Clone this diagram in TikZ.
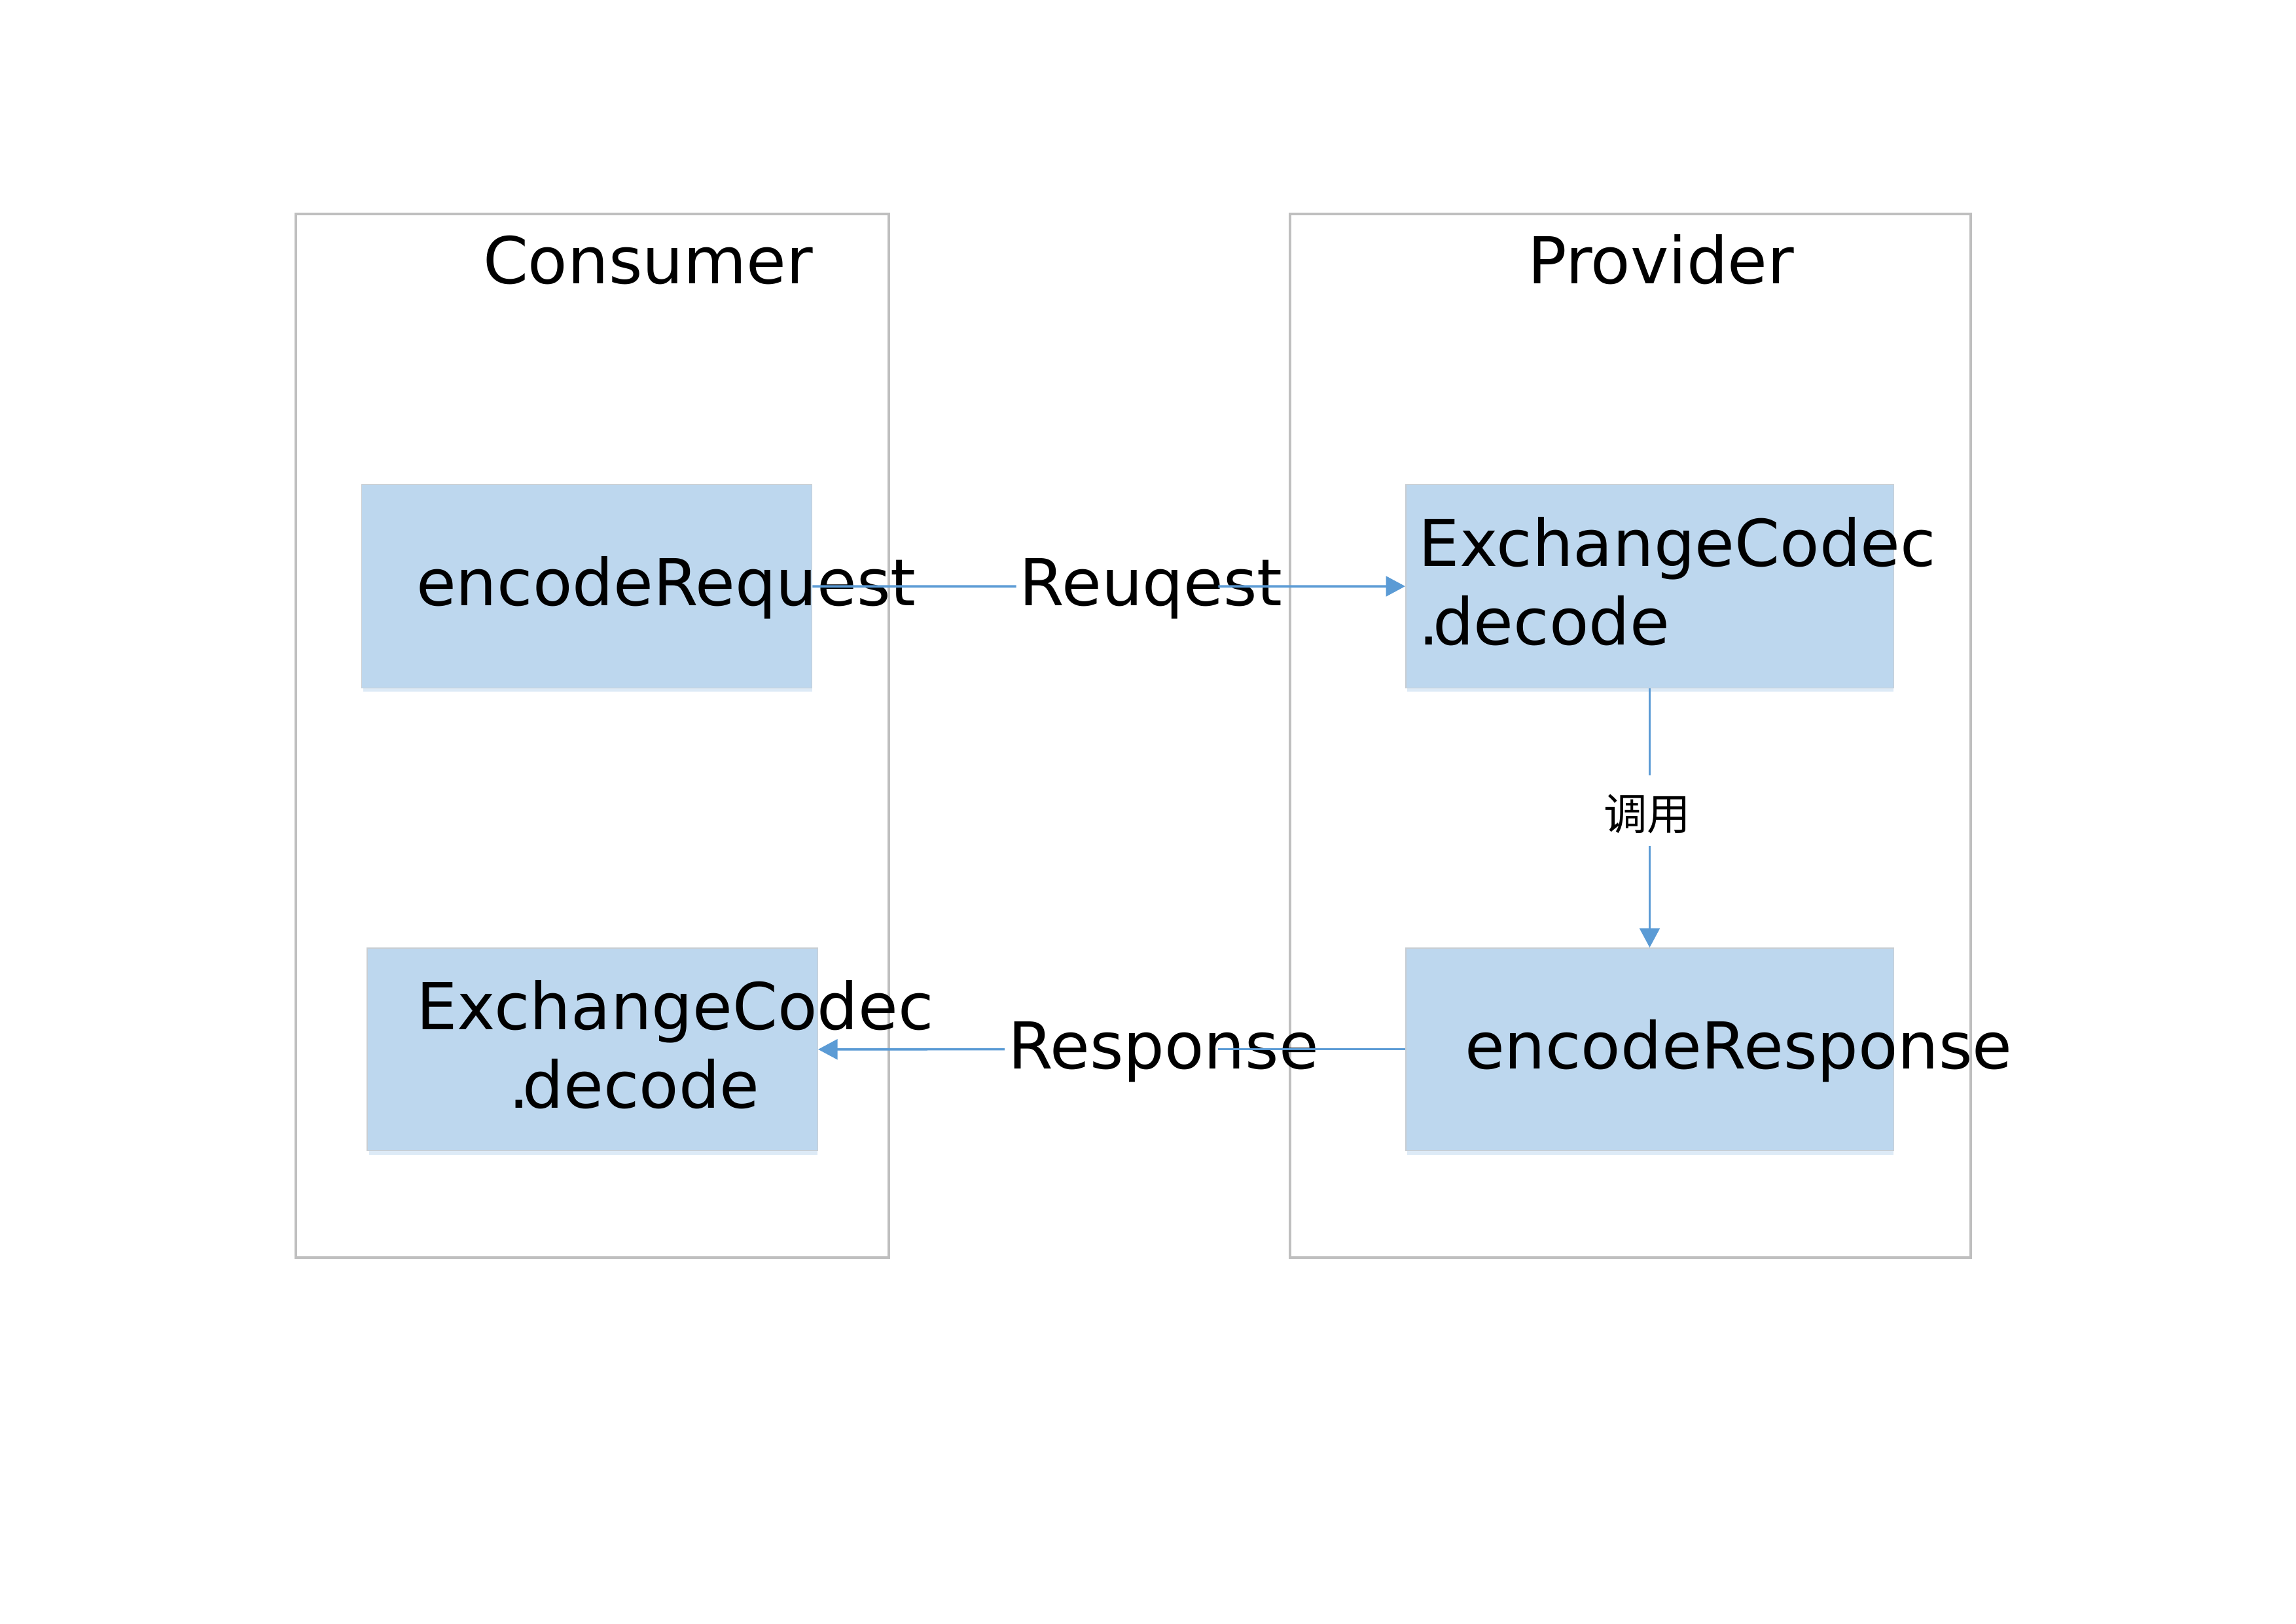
\documentclass[tikz,border=0pt]{standalone}
\usepackage{fontspec}
\setmainfont{DejaVu Sans}
\newfontfamily\cjk{Noto Sans CJK SC}
\usetikzlibrary{arrows.meta,fit}
\definecolor{boxfill}{HTML}{BDD7EE}
\definecolor{boxshade}{HTML}{DDEAF6}
\definecolor{boxedge}{HTML}{C8CDD2}
\definecolor{frame}{HTML}{BFBFBF}
\definecolor{conncol}{HTML}{5B9BD5}
\begin{document}
\begin{tikzpicture}[x=0.018941cm,y=-0.018941cm,
  frameBox/.style={draw=frame,line width=0.9pt,inner sep=0pt},
  blockBox/.style={fill=boxfill,draw=boxedge,line width=0.35pt,inner sep=0pt},
  shade/.style={fill=boxshade,draw=none},
  bigText/.style={inner sep=0pt,anchor=base west,font=\fontsize{23.8}{28.8}\selectfont},
  cjkText/.style={inner sep=0pt,font=\cjk\fontsize{16}{19}\selectfont},
  conn/.style={draw=conncol,line width=0.85pt},
  connArrow/.style={conn,-{Triangle[width=0.26cm,length=0.25cm]}}]
\useasboundingbox (0,0) rectangle (1568,1109);
\fill[white] (0,0) rectangle (1568,1109);

% outer frames
\node[frameBox,fit={(202,146) (607,859)}] (consumer) {};
\node[frameBox,fit={(881,146) (1346,859)}] (provider) {};
\node[bigText] (consumerLbl) at (329.5,193.7) {Consumer};
\node[bigText] (providerLbl) at (1043,193.7) {Provider};

% shadows
\fill[shade] (248,470) rectangle (554.5,472.5);
\fill[shade] (961,470) rectangle (1293,472.5);
\fill[shade] (252,786) rectangle (558.4,789);
\fill[shade] (961,786) rectangle (1293,789);

% blocks
\node[blockBox,fit={(247,331) (554.5,470)}] (req) {};
\node[blockBox,fit={(960,331) (1293.2,470)}] (pdec) {};
\node[blockBox,fit={(960,647.6) (1293.2,786)}] (resp) {};
\node[blockBox,fit={(250.8,647.7) (558.4,786)}] (cdec) {};

% block texts
\node[bigText] (reqLbl) at (284,413.5) {encodeRequest};
\node[bigText] (pdecLbl1) at (968.5,387) {ExchangeCodec};
\node[bigText] (pdecLbl2) at (968.5,440.6) {.\kern-0.1em decode};
\node[bigText] (respLbl) at (1000,730) {encodeResponse};
\node[bigText] (cdecLbl1) at (284,703.5) {ExchangeCodec};
\node[bigText] (cdecLbl2) at (347,756.9) {.\kern-0.1em decode};

% connector labels
\node[bigText] (reqConn) at (696,413.5) {Reuqest};
\node[bigText] (respConn) at (688,730) {Response};
\node[cjkText] (callLbl) at (1125,556) {调用};

% connectors
\coordinate (g1a) at (694,400.5);
\coordinate (g1b) at (832,400.5);
\draw[conn] (req.east) -- (g1a);
\draw[connArrow] (g1b) -- (pdec.west);

\coordinate (g2a) at (832,716.8);
\coordinate (g2b) at (686,716.8);
\draw[conn] (resp.west) -- (g2a);
\draw[connArrow] (g2b) -- (cdec.east);

\coordinate (g3a) at (1126.6,529.7);
\coordinate (g3b) at (1126.6,578);
\draw[conn] (pdec.south) -- (g3a);
\draw[connArrow] (g3b) -- (resp.north);
\end{tikzpicture}
\end{document}
